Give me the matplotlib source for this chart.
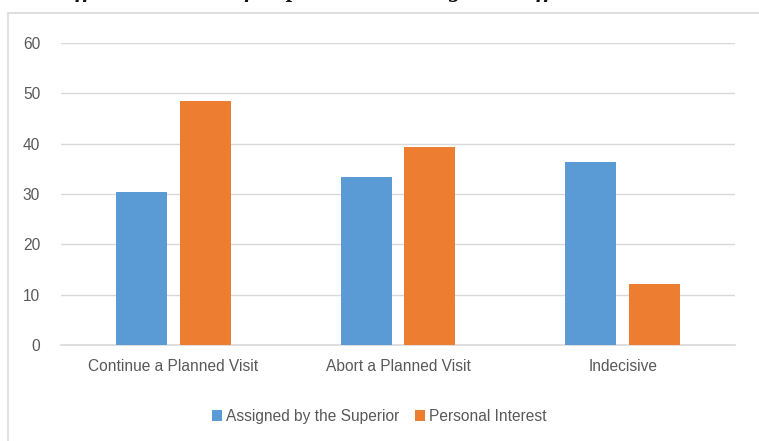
import matplotlib
matplotlib.use('Agg')
import matplotlib.pyplot as plt
import matplotlib.patches as mpatches
import numpy as np

CATEGORIES = ['Continue a Planned Visit', 'Abort a Planned Visit', 'Indecisive']
SUPERIOR   = [30.3, 33.3, 36.4]
PERSONAL   = [48.5, 39.4, 12.1]
SERIES     = ['Assigned by the Superior', 'Personal Interest']
YTICKS     = [0, 10, 20, 30, 40, 50, 60]

BLUE   = '#5B9BD5'
ORANGE = '#ED7D31'
GRID   = '#D9D9D9'
TEXT   = '#595959'

plt.rcParams['font.family'] = ['Liberation Sans', 'DejaVu Sans']

fig = plt.figure(figsize=(7.59, 4.41), dpi=100)
fig.patch.set_facecolor('white')

# clipped caption line from the page above the chart
fig.text(0.5, 1.0 + 0.02,
         'ne affected decision of respondents with regard to affected destinations',
         ha='center', va='center', fontsize=17, style='italic', fontweight='bold',
         family=['Liberation Serif', 'DejaVu Serif'], color='#111111')

# chart area border
fig.patches.append(mpatches.Rectangle((7.5 / 759, -0.1), 1.0, (441 - 13) / 441 + 0.1,
                                      transform=fig.transFigure, fill=False,
                                      edgecolor=GRID, linewidth=1.2))

ax = fig.add_axes([61 / 759, (441 - 345) / 441, (735 - 61) / 759, (345 - 43) / 441])

x = np.arange(len(CATEGORIES))
w = 0.227
off = 0.142
ax.bar(x - off, SUPERIOR, w, color=BLUE, label=SERIES[0], zorder=3)
ax.bar(x + off, PERSONAL, w, color=ORANGE, label=SERIES[1], zorder=3)

ax.set_xlim(-0.5, 2.5)
ax.set_ylim(0, 60)
ax.set_yticks(YTICKS)
ax.set_xticks(x)
ax.set_xticklabels(CATEGORIES)
ax.yaxis.grid(True, color=GRID, linewidth=1.0)
ax.set_axisbelow(True)
for s in ['top', 'right', 'left']:
    ax.spines[s].set_visible(False)
ax.spines['bottom'].set_color(GRID)
ax.spines['bottom'].set_linewidth(1.2)
ax.tick_params(axis='both', length=0, labelsize=11.2, colors=TEXT)
ax.tick_params(axis='y', pad=15)
ax.tick_params(axis='x', pad=10)

ax.legend(loc='upper center', bbox_to_anchor=(0.472, -0.165), ncol=2, frameon=False,
          fontsize=11.2, handlelength=0.65, handleheight=0.65, handletextpad=0.25,
          columnspacing=1.0, labelcolor=TEXT)

fig.savefig('out.png', dpi=100)
